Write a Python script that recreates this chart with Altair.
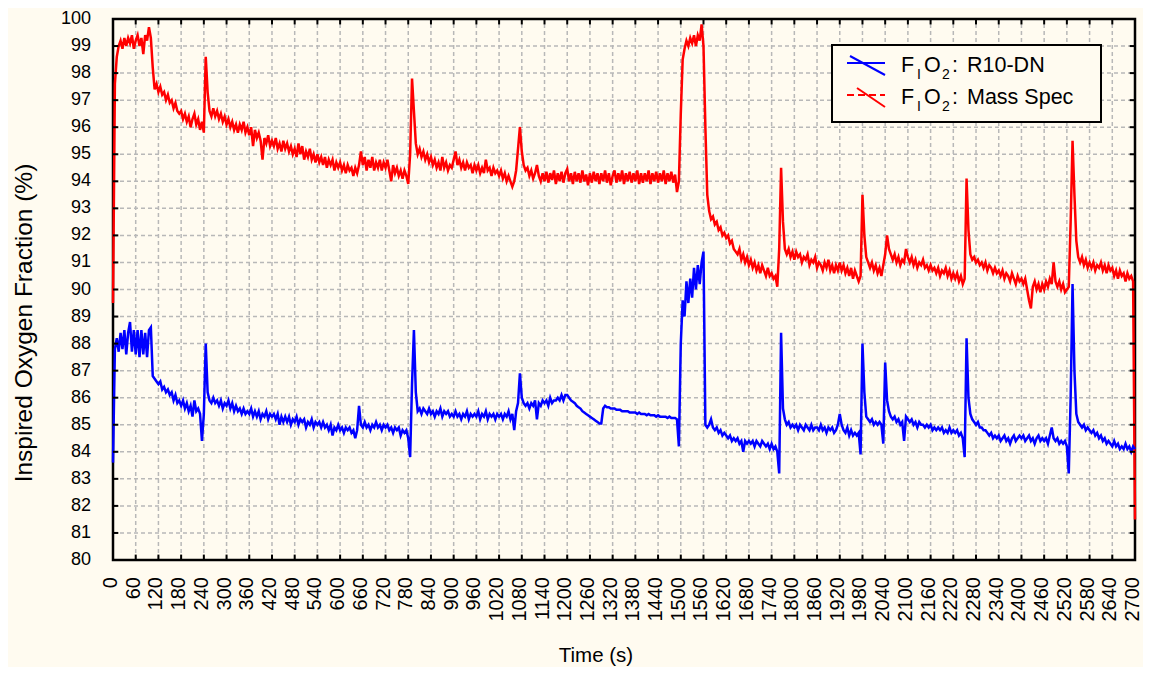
import altair as alt
import pandas as pd

BG = "#FFFBF0"
FONT = "Liberation Sans"

# sampling grid (seconds), one reading every 5 s
time_s = list(range(0, 2701, 5))

mass_spec = [
    89.5, 97.6, 98.6, 99.0, 99.2, 98.9, 99.3, 99.0, 99.3, 99.1, 99.4, 98.9,
    99.2, 99.4, 99.0, 99.3, 98.7, 99.4, 99.2, 99.7, 99.3, 98.2, 97.4, 97.6,
    97.3, 97.5, 97.2, 97.3, 97.0, 97.2, 96.9, 97.0, 96.7, 96.9, 96.6, 96.5,
    96.6, 96.3, 96.5, 96.2, 96.4, 96.0, 96.3, 96.5, 96.1, 96.3, 95.9, 96.2,
    95.8, 98.6, 97.3, 96.6, 96.4, 96.7, 96.4, 96.6, 96.3, 96.5, 96.2, 96.4,
    96.1, 96.3, 96.0, 96.2, 95.9, 96.1, 95.8, 96.1, 95.9, 96.2, 95.8, 96.0,
    95.7, 96.0, 95.3, 95.9, 95.6, 95.8, 95.5, 94.8, 95.6, 95.4, 95.7, 95.3,
    95.5, 95.3, 95.6, 95.2, 95.4, 95.1, 95.5, 95.2, 95.4, 95.1, 95.3, 95.0,
    95.2, 94.9, 95.4, 95.0, 95.3, 94.8, 95.1, 94.9, 95.2, 94.8, 95.0, 94.7,
    95.0, 94.7, 94.9, 94.6, 94.9, 94.5, 94.8, 94.6, 94.8, 94.4, 94.7, 94.5,
    94.7, 94.4, 94.6, 94.3, 94.6, 94.4, 94.5, 94.2, 94.5, 94.3, 94.6, 95.1,
    94.6, 94.9, 94.4, 94.8, 94.5, 94.9, 94.4, 94.7, 94.5, 94.8, 94.4, 94.7,
    94.5, 94.8, 94.4, 94.0, 94.6, 94.3, 94.5, 94.2, 94.4, 94.1, 94.4, 94.2,
    93.9, 95.0, 97.8, 96.6, 95.4, 95.0, 95.2, 94.9, 95.1, 94.8, 95.0, 94.7,
    94.9, 94.6, 94.8, 94.5, 94.7, 94.4, 94.9, 94.5, 94.7, 94.4, 94.6, 94.5,
    94.8, 95.1, 94.6, 94.8, 94.5, 94.7, 94.4, 94.7, 94.5, 94.6, 94.3, 94.6,
    94.4, 94.6, 94.3, 94.5, 94.3, 94.8, 94.4, 94.5, 94.2, 94.5, 94.3, 94.4,
    94.2, 94.4, 94.1, 94.3, 94.0, 94.2, 94.0, 93.8, 94.0, 94.4, 95.2, 96.0,
    95.1, 94.6, 94.4, 94.5, 94.2, 94.4, 94.1, 94.3, 94.6, 94.2, 94.0, 94.3,
    94.0, 94.35, 93.95, 94.3, 94.05, 94.4, 93.9, 94.3, 94.0, 94.35, 93.95, 94.3,
    94.45, 94.0, 94.3, 93.9, 94.35, 94.0, 94.3, 93.95, 94.4, 94.0, 94.25, 93.85,
    94.3, 93.95, 94.35, 94.0, 94.3, 93.9, 94.3, 94.0, 94.4, 93.95, 94.3, 93.85,
    94.2, 94.4, 93.95, 94.3, 94.0, 94.4, 93.9, 94.3, 94.0, 94.35, 93.95, 94.3,
    94.0, 94.4, 93.9, 94.3, 93.95, 94.3, 94.0, 94.4, 93.9, 94.3, 94.0, 94.35,
    93.95, 94.3, 94.0, 94.4, 93.9, 94.3, 94.0, 94.35, 93.95, 94.25, 93.6, 94.0,
    96.5, 98.5, 98.9, 99.2, 99.0, 99.3, 99.1, 99.4, 99.0, 99.4, 99.2, 99.8,
    99.0, 96.0, 93.5, 92.9, 92.6, 92.7, 92.4, 92.5, 92.2, 92.3, 92.0, 92.1,
    91.9, 92.0, 91.7, 91.8, 91.5, 91.4, 91.3, 91.5, 91.1, 91.3, 91.0, 91.2,
    90.9, 91.1, 90.8, 91.0, 90.7, 90.9, 90.6, 90.9, 90.7, 90.5, 90.8, 90.5,
    90.6, 90.4, 90.5, 90.1, 91.5, 94.5, 92.5, 91.5, 91.3, 91.5, 91.2, 91.4,
    91.1, 91.4, 91.2, 91.3, 91.0, 91.2, 91.1, 91.3, 90.9, 91.1, 91.0, 91.2,
    90.8, 91.0, 90.9, 90.7, 91.0, 90.8, 91.1, 90.7, 90.9, 90.6, 90.9, 90.7,
    91.0, 90.7, 90.9, 90.6, 90.8, 90.5, 90.8, 90.4, 90.7, 90.5, 90.3, 90.5,
    93.5, 92.0, 91.2, 91.0, 90.8, 91.0, 90.7, 90.9, 90.6, 90.8, 90.5, 90.9,
    91.3, 92.0, 91.5, 91.3, 91.1, 91.3, 91.0, 91.2, 90.9, 91.1, 91.0, 91.5,
    91.2, 91.0, 91.2, 90.9, 91.1, 90.8, 91.0, 90.9, 91.1, 90.8, 90.9, 90.7,
    90.9, 90.7, 90.8, 90.6, 90.8, 90.5, 90.7, 90.6, 90.8, 90.5, 90.7, 90.4,
    90.6, 90.4, 90.6, 90.3, 90.5, 90.2, 90.4, 94.1, 92.2, 91.3, 91.1, 91.2,
    91.0, 91.1, 90.9, 91.0, 90.8, 91.0, 90.7, 90.9, 90.8, 90.6, 90.8, 90.6,
    90.7, 90.5, 90.7, 90.4, 90.6, 90.5, 90.3, 90.6, 90.4, 90.2, 90.5, 90.3,
    90.4, 90.2, 90.4, 90.0, 89.6, 89.3, 90.1, 90.3, 90.0, 90.2, 89.9, 90.2,
    90.0, 90.3, 90.1, 90.4, 90.2, 91.0, 90.3, 90.1, 90.3, 90.0, 90.2, 89.9,
    90.0, 90.1, 92.5, 95.5, 93.5, 91.8, 91.2, 91.0, 91.2, 90.9, 91.1, 90.8,
    91.0, 90.8, 91.0, 90.7, 90.9, 90.8, 91.0, 90.7, 90.9, 90.6, 90.9, 90.7,
    90.8, 90.5, 90.7, 90.4, 90.7, 90.5, 90.6, 90.3, 90.6, 90.4, 90.5, 90.3,
    81.5,
]

r10_dn = [
    83.6, 87.8, 88.2, 87.7, 88.4, 87.8, 88.5, 87.6, 88.4, 88.8, 87.7, 88.5,
    87.6, 88.5, 87.5, 88.5, 87.6, 88.4, 87.5, 88.5, 88.6, 86.8, 86.7, 86.6,
    86.5, 86.6, 86.3, 86.4, 86.2, 86.3, 86.1, 86.2, 85.9, 86.1, 85.8, 85.9,
    85.7, 85.9, 85.6, 85.8, 85.5, 85.7, 85.3, 85.9, 85.5, 85.6, 85.4, 84.4,
    85.4, 88.0, 86.2, 85.9, 85.8, 86.0, 85.8, 85.9, 85.7, 85.9, 85.6, 85.8,
    85.7, 85.9, 85.6, 85.8, 85.5, 85.7, 85.5, 85.6, 85.4, 85.6, 85.4, 85.5,
    85.4, 85.6, 85.3, 85.5, 85.3, 85.5, 85.2, 85.4, 85.3, 85.5, 85.2, 85.4,
    85.3, 85.4, 85.2, 85.4, 85.0, 85.3, 85.1, 85.3, 85.1, 85.3, 85.0, 85.2,
    85.1, 85.3, 85.0, 85.2, 85.1, 85.2, 84.9, 85.1, 85.0, 85.2, 84.9, 85.1,
    85.0, 85.1, 84.9, 85.1, 84.9, 85.0, 84.8, 85.0, 84.6, 84.9, 84.8, 85.0,
    84.8, 84.9, 84.7, 84.9, 84.8, 84.9, 84.7, 84.8, 84.5, 84.8, 85.7, 85.0,
    84.9, 85.1, 84.9, 85.0, 84.8, 85.0, 84.9, 85.1, 84.9, 85.0, 84.8, 85.0,
    84.9, 85.0, 84.8, 84.9, 84.7, 84.9, 84.8, 84.9, 84.6, 84.8, 84.7, 84.8,
    84.5, 83.8, 86.5, 88.5, 86.2, 85.5, 85.6, 85.4, 85.6, 85.5, 85.4, 85.6,
    85.4, 85.5, 85.3, 85.5, 85.4, 85.6, 85.3, 85.5, 85.4, 85.5, 85.3, 85.4,
    85.3, 85.5, 85.3, 85.4, 85.2, 85.4, 85.3, 85.5, 85.2, 85.4, 85.3, 85.4,
    85.3, 85.5, 85.2, 85.4, 85.3, 85.5, 85.2, 85.4, 85.3, 85.4, 85.2, 85.4,
    85.3, 85.4, 85.2, 85.4, 85.3, 85.5, 85.2, 85.4, 84.8, 85.5, 85.8, 86.9,
    86.0, 85.8, 85.7, 85.8, 85.6, 85.8, 85.7, 85.9, 85.2, 85.8, 85.7, 85.9,
    85.8, 85.9, 85.7, 86.0, 85.8, 85.9, 85.9, 86.0, 85.9, 86.1, 85.9, 86.1,
    86.1, 86.0, 85.9, 85.85, 85.8, 85.7, 85.65, 85.6, 85.5, 85.45, 85.4, 85.35,
    85.3, 85.25, 85.2, 85.15, 85.1, 85.05, 85.05, 85.6, 85.7, 85.65, 85.65, 85.6,
    85.6, 85.6, 85.55, 85.55, 85.55, 85.5, 85.5, 85.5, 85.5, 85.45, 85.45, 85.45,
    85.45, 85.4, 85.45, 85.4, 85.4, 85.4, 85.35, 85.4, 85.35, 85.35, 85.35, 85.3,
    85.35, 85.3, 85.3, 85.3, 85.3, 85.25, 85.3, 85.25, 85.25, 85.25, 85.2, 84.2,
    88.0, 89.6, 89.0, 90.3, 89.5, 90.4, 89.7, 90.8, 90.0, 90.9, 90.2, 91.0,
    91.4, 85.0, 84.9, 85.0, 85.2, 84.9, 84.8, 84.9, 84.7, 84.8, 84.6, 84.7,
    84.6, 84.5, 84.6, 84.4, 84.5, 84.4, 84.5, 84.3, 84.4, 84.0, 84.4, 84.3,
    84.4, 84.3, 84.4, 84.2, 84.4, 84.3, 84.2, 84.4, 84.3, 84.2, 84.3, 84.1,
    84.3, 84.1, 84.2, 84.0, 83.2, 88.4, 85.6, 85.2, 85.0, 85.1, 84.9, 85.0,
    84.9, 85.0, 84.8, 85.0, 84.9, 84.8, 85.0, 84.9, 84.8, 85.0, 84.8, 84.9,
    84.9, 84.8, 85.0, 84.8, 84.9, 84.7, 84.9, 84.8, 84.9, 84.7, 84.8, 85.0,
    85.4, 85.0, 84.8, 84.7, 84.9, 84.6, 84.8, 84.6, 84.7, 84.6, 84.7, 83.9,
    88.0, 86.2, 85.3, 85.2, 85.1, 85.2, 85.0, 85.1, 85.0, 85.1, 85.0, 84.3,
    87.3, 85.9, 85.5, 85.3, 85.2, 85.3, 85.1, 85.2, 85.0, 85.1, 84.4, 85.3,
    85.2, 85.1, 85.2, 85.0, 85.1, 84.9, 85.1, 85.0, 85.0, 84.9, 85.0, 84.9,
    85.0, 84.8, 84.9, 84.8, 84.9, 84.8, 84.9, 84.7, 84.8, 84.7, 84.9, 84.7,
    84.8, 84.7, 84.8, 84.6, 84.7, 84.5, 83.8, 88.2, 86.0, 85.4, 85.2, 85.1,
    85.0, 85.1, 84.9, 84.9, 84.8, 84.8, 84.7, 84.6, 84.7, 84.5, 84.6, 84.5,
    84.6, 84.4, 84.5, 84.6, 84.4, 84.5, 84.3, 84.5, 84.6, 84.4, 84.5, 84.6,
    84.5, 84.6, 84.4, 84.5, 84.6, 84.4, 84.5, 84.3, 84.5, 84.6, 84.4, 84.5,
    84.4, 84.5, 84.3, 84.6, 84.9, 84.5, 84.4, 84.5, 84.3, 84.4, 84.3, 84.4,
    84.2, 83.2, 86.0, 90.2, 87.0, 85.4, 85.1, 85.0, 84.9, 85.0, 84.8, 84.9,
    84.8, 84.7, 84.8, 84.6, 84.7, 84.5, 84.6, 84.4, 84.5, 84.3, 84.4, 84.3,
    84.2, 84.4, 84.2, 84.3, 84.1, 84.2, 84.1, 84.3, 84.1, 84.2, 84.0, 84.2,
    84.1,
]

# axis ticks / labels
x_tick_values = list(range(0, 2701, 60))
x_tick_labels = [str(v) for v in x_tick_values]
y_tick_values = list(range(80, 101))
y_tick_labels = [str(v) for v in y_tick_values]
x_title = "Time (s)"
y_title = "Inspired Oxygen Fraction (%)"

df_red = pd.DataFrame({"t": time_s, "value": mass_spec})
df_blue = pd.DataFrame({"t": time_s, "value": r10_dn})
df_xt = pd.DataFrame({"t": x_tick_values, "label": x_tick_labels})
df_yt = pd.DataFrame({"value": y_tick_values, "label": y_tick_labels})
one = pd.DataFrame({"k": [0]})

xscale = alt.Scale(domain=[0, 2700], nice=False, zero=False)
yscale = alt.Scale(domain=[80, 100], nice=False, zero=False)

X = alt.X("t:Q", scale=xscale, axis=None)
Y = alt.Y("value:Q", scale=yscale, axis=None)

GRID = dict(color="#b8b8b8", strokeWidth=1.5, strokeDash=[4, 3])

grid_v = alt.Chart(df_xt).mark_rule(**GRID).encode(
    x=X, y=alt.Y(datum=80, scale=yscale, axis=None), y2=alt.Y2(datum=100))
grid_h = alt.Chart(df_yt).mark_rule(**GRID).encode(
    y=Y, x=alt.X(datum=0, scale=xscale, axis=None), x2=alt.X2(datum=2700))

frame = alt.Chart(one).mark_rect(fillOpacity=0, stroke="black", strokeWidth=2.5).encode(
    x=alt.X(datum=0, axis=None), x2=alt.X2(datum=2700),
    y=alt.Y(datum=80, axis=None), y2=alt.Y2(datum=100),
)

red_line = alt.Chart(df_red).mark_line(color="#FF0000", strokeWidth=2.5).encode(x=X, y=Y)
blue_line = alt.Chart(df_blue).mark_line(color="#0000FF", strokeWidth=2.5).encode(x=X, y=Y)

TICK = dict(color="black", strokeWidth=2)
tick_bottom = alt.Chart(df_xt).mark_rule(**TICK).encode(
    x=X, y=alt.Y(datum=80, axis=None), y2=alt.Y2(datum=80.2))
tick_top = alt.Chart(df_xt).mark_rule(**TICK).encode(
    x=X, y=alt.Y(datum=100, axis=None), y2=alt.Y2(datum=99.8))
tick_left = alt.Chart(df_yt).mark_rule(**TICK).encode(
    y=Y, x=alt.X(datum=0, axis=None), x2=alt.X2(datum=14))
tick_right = alt.Chart(df_yt).mark_rule(**TICK).encode(
    y=Y, x=alt.X(datum=2700, axis=None), x2=alt.X2(datum=2686))

x_labels = alt.Chart(df_xt).mark_text(
    angle=270, align="right", baseline="middle", dx=-17, dy=-2,
    font=FONT, fontSize=20, color="black",
).encode(x=X, y=alt.Y(datum=80, axis=None), text="label:N")
y_labels = alt.Chart(df_yt).mark_text(
    align="right", baseline="middle", dx=-22,
    font=FONT, fontSize=18, color="black",
).encode(y=Y, x=alt.X(datum=0, axis=None), text="label:N")

x_title_mark = alt.Chart(one).mark_text(
    align="center", baseline="alphabetic", font=FONT, fontSize=20.5, color="black"
).encode(x=alt.value(483), y=alt.value(643), text=alt.value(x_title))
y_title_mark = alt.Chart(one).mark_text(
    align="center", baseline="middle", angle=270, font=FONT, fontSize=24.5, color="black"
).encode(x=alt.value(-88), y=alt.value(304), text=alt.value(y_title))

# custom legend (box, symbols and subscripted labels)
leg_box = alt.Chart(one).mark_rect(fill=BG, stroke="black", strokeWidth=2).encode(
    x=alt.value(719), x2=alt.value(988), y=alt.value(26), y2=alt.value(103))


def seg(color, x1, y1, x2, y2, dash=None):
    kw = dict(color=color, strokeWidth=2)
    if dash:
        kw["strokeDash"] = dash
    return alt.Chart(one).mark_rule(**kw).encode(
        x=alt.value(x1), y=alt.value(y1), x2=alt.value(x2), y2=alt.value(y2))


def txt(s, x, y, size):
    return alt.Chart(one).mark_text(
        align="left", baseline="alphabetic", font=FONT, fontSize=size, color="black"
    ).encode(x=alt.value(x), y=alt.value(y), text=alt.value(s))


legend_rows = [("R10-DN", "#0000FF", 53, None), ("Mass Spec", "#FF0000", 85, [7, 4])]
legend_layers = [leg_box]
for label, color, base, dash in legend_rows:
    legend_layers.append(seg(color, 734, base - 9, 772, base - 9, dash))
    legend_layers.append(seg(color, 737 if dash is None else 744, base - 16, 772, base + 3))
    legend_layers.append(txt("F", 788, base, 21.5))
    legend_layers.append(txt("I", 804, base + 7, 14))
    legend_layers.append(txt("O", 811, base, 21.5))
    legend_layers.append(txt("2", 829, base + 7, 14))
    legend_layers.append(txt(":", 839, base, 21.5))
    legend_layers.append(txt(label, 854, base, 21.5))

chart = alt.layer(
    grid_v, grid_h, frame, red_line, blue_line,
    tick_bottom, tick_top, tick_left, tick_right,
    x_labels, y_labels, x_title_mark, y_title_mark,
    *legend_layers,
).properties(
    width=1022, height=541,
    autosize=alt.AutoSizeParams(type="none"),
    padding={"left": 105, "top": 11, "right": 8, "bottom": 107},
    background=BG,
).configure_view(strokeWidth=0)

chart.save("out.html", embed_options={"renderer": "svg", "actions": False})
